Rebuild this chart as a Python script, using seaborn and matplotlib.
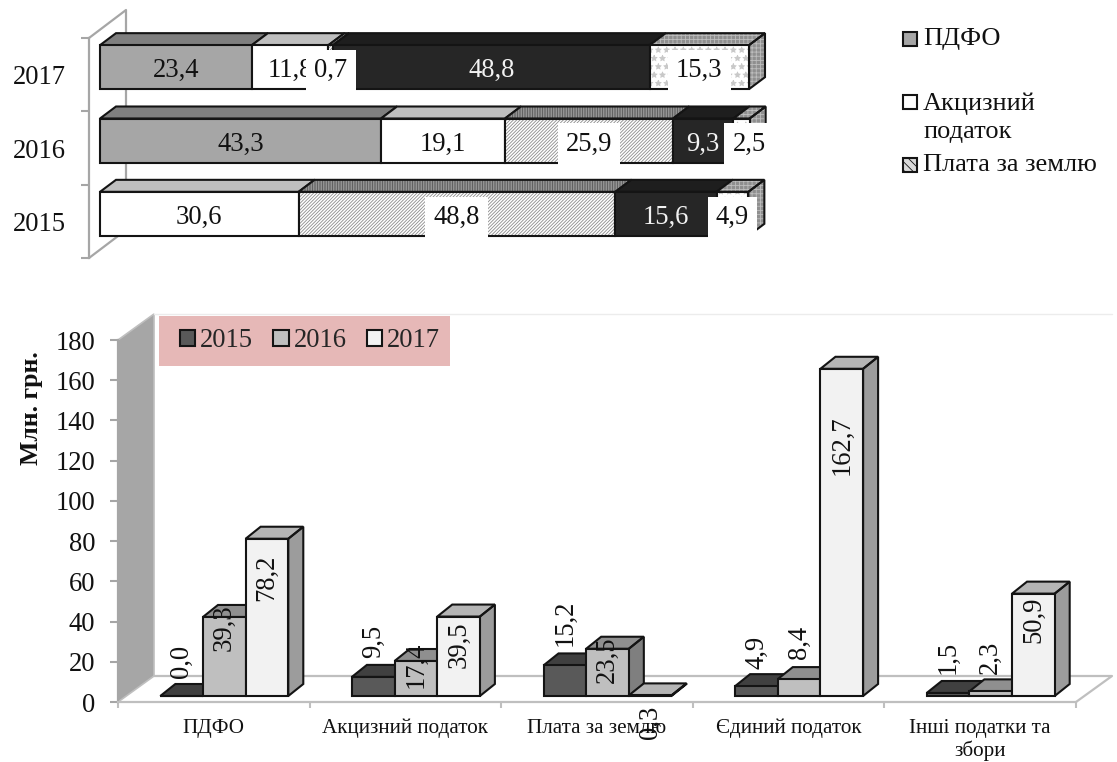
import numpy as np
import pandas as pd
import matplotlib
matplotlib.use("Agg")
import matplotlib.pyplot as plt
from matplotlib.patches import Polygon, Rectangle, Patch
import seaborn as sns

# ---- shares of local budget revenue, % ----
share_years = ["2017", "2016", "2015"]
share_pdfo = [23.4, 43.3, 0.0]
share_excise = [11.8, 19.1, 30.6]
share_land = [0.7, 25.9, 48.8]
share_single = [48.8, 9.3, 15.6]
share_other = [15.3, 2.5, 4.9]

# ---- revenue by tax, mln UAH ----
tax_names = ["ПДФО", "Акцизний податок", "Плата за землю", "Єдиний податок", "Інші податки та\nзбори"]
amount_years = ["2015", "2016", "2017"]
amount_2015 = [0.0, 9.5, 15.2, 4.9, 1.5]
amount_2016 = [39.3, 17.4, 23.5, 8.4, 2.3]
amount_2017 = [78.2, 39.5, 0.3, 162.7, 50.9]

W, H = 1117, 762
INK = "#141414"
WALL = "#a6a6a6"
FLOOR = "#bfbfbf"
BIG = 19.2

sns.set_theme(style="white")
plt.rcParams["font.family"] = ["Liberation Serif", "DejaVu Serif"]
plt.rcParams["hatch.linewidth"] = 0.6
plt.rcParams["axes.unicode_minus"] = False

fig = plt.figure(figsize=(W / 100, H / 100), dpi=100, facecolor="white")


def box_axes(left, top, right, bottom, **kw):
    """Axes placed by pixel edges, measured from the top-left corner."""
    return fig.add_axes([left / W, 1 - bottom / H, (right - left) / W, (bottom - top) / H], **kw)


def depth(ax, dx_px, dy_px):
    """Convert a screen offset in pixels to data units of the axes."""
    inv = ax.transData.inverted()
    p0 = inv.transform((0, 0))
    p1 = inv.transform((dx_px, dy_px))
    return p1[0] - p0[0], p1[1] - p0[1]


def face(ax, pts, color, z, hatch=None, hatch_color=None, lw=1.5):
    """One flat side of a 3D block: fill, optional hatch, dark outline."""
    if hatch:
        ax.add_patch(Polygon(pts, closed=True, facecolor=color, edgecolor=hatch_color,
                             lw=0, hatch=hatch, zorder=z, clip_on=False))
    else:
        ax.add_patch(Polygon(pts, closed=True, facecolor=color, edgecolor="none",
                             zorder=z, clip_on=False))
    ax.add_patch(Polygon(pts, closed=True, fill=False, edgecolor=INK, lw=lw,
                         joinstyle="miter", zorder=z + 0.01, clip_on=False))


# ------------------------------------------------------------------ stacked shares
PX_PER_PCT = 6.49
frame_top = box_axes(89, 38, 770, 258)
frame_top.set_xlim(0, 681 / PX_PER_PCT)
frame_top.set_ylim(2.5, -0.5)
frame_top.set_yticks(range(3))
frame_top.set_yticklabels(share_years, fontsize=BIG, color="#111111")
frame_top.set_yticks([-0.5, 0.5, 1.5, 2.5], minor=True)
frame_top.tick_params(axis="y", which="major", length=0, pad=17)
frame_top.tick_params(axis="y", which="minor", length=5.5, width=1.5, color=WALL, left=True)
frame_top.set_xticks([])
for name, spine in frame_top.spines.items():
    spine.set_visible(name == "left")
    spine.set_color(WALL)
    spine.set_linewidth(1.6)
frame_top.patch.set_alpha(0)
wx, wy = depth(frame_top, 37, 28)
frame_top.plot([0, wx, wx], [-0.5, -0.5 + wy, 2.5 + wy], color=WALL, lw=1.6, clip_on=False)
frame_top.plot([0, wx], [2.5, 2.5 + wy], color=WALL, lw=1.6, clip_on=False)

ax_top = box_axes(100, 30.5, 781, 250.5)
ax_top.patch.set_alpha(0)

stack_series = [
    dict(values=share_pdfo, front="#a6a6a6", top="#7f7f7f", side="#7f7f7f", ink="#111111", box=False),
    dict(values=share_excise, front="#ffffff", top="#bfbfbf", side="#bfbfbf", ink="#111111", box=False),
    dict(values=share_land, front="#ffffff", top="#a8a8a8", side="#8a8a8a", ink="#111111", box=True,
         hatch="//////////", hatch_color="#8c8c8c", top_hatch="||||||||||", top_hatch_color="#555555"),
    dict(values=share_single, front="#262626", top="#1e1e1e", side="#1e1e1e", ink="#f2f2f2", box=False),
    dict(values=share_other, front="#ffffff", top="#8f8f8f", side="#8f8f8f", ink="#111111", box=True,
         hatch="**", hatch_color="#c8c8c8", top_hatch="++++", top_hatch_color="#bdbdbd"),
]
# the last label sits a little to the right of its narrow segment
label_nudge_pct = {(1, 4): 1.2}

running = np.zeros(len(share_years))
sx, sy = None, None
for k, s in enumerate(stack_series):
    frame = pd.DataFrame({"Рік": share_years, "Частка": s["values"]})
    sns.barplot(data=frame, x="Частка", y="Рік", order=share_years, orient="y", left=running.copy(),
                width=0.6, color=s["front"], saturation=1, errorbar=None, ax=ax_top)
    ax_top.set_xlim(0, 681 / PX_PER_PCT)
    ax_top.set_ylim(2.5, -0.5)
    if sx is None:
        sx, sy = depth(ax_top, 16, 12)
    container = ax_top.containers[-1]
    z = 2 + 2 * k
    for i, bar in enumerate(container):
        v = s["values"][i]
        bar.set_linewidth(0)
        bar.set_zorder(z + 0.5)
        bar.set_hatch(s.get("hatch"))
        if s.get("hatch"):
            bar.set_edgecolor(s["hatch_color"])
        if v <= 0:
            bar.set_visible(False)
            continue
        x0, x1 = bar.get_x(), bar.get_x() + bar.get_width()
        y0, y1 = bar.get_y(), bar.get_y() + bar.get_height()
        face(ax_top, [(x0, y0), (x1, y0), (x1 + sx, y0 + sy), (x0 + sx, y0 + sy)], s["top"], z,
             s.get("top_hatch"), s.get("top_hatch_color"))
        if k == len(stack_series) - 1:
            face(ax_top, [(x1, y0), (x1 + sx, y0 + sy), (x1 + sx, y1 + sy), (x1, y1)], s["side"], z,
                 s.get("top_hatch"), s.get("top_hatch_color"))
        ax_top.add_patch(Rectangle((x0, y0), x1 - x0, y1 - y0, fill=False, edgecolor=INK, lw=1.5,
                                   zorder=z + 0.6, clip_on=False))
    running = running + np.array(s["values"])

ax_top.set_axis_off()

running = np.zeros(len(share_years))
for k, s in enumerate(stack_series):
    for i, v in enumerate(s["values"]):
        if v <= 0:
            continue
        xc = running[i] + v / 2 + label_nudge_pct.get((i, k), 0)
        bbox = dict(facecolor="white", edgecolor="none", pad=6) if s["box"] else None
        ax_top.text(xc, i + 0.05, f"{v:.1f}".replace(".", ","), ha="center", va="center",
                    fontsize=BIG, color=s["ink"], bbox=bbox, zorder=30 + k, clip_on=False)
    running = running + np.array(s["values"])

# side legend of the share chart
legend_rows = [
    ("ПДФО", 39, 39, "#a6a6a6", None),
    ("Акцизний\nподаток", 118, 102, "#ffffff", None),
    ("Плата за землю", 165, 165, "#d9d9d9", "\\\\\\\\"),
]
for label, text_y, mark_y, fc, hatch in legend_rows:
    fig.add_artist(Rectangle((903.5 / W, 1 - (mark_y + 7) / H), 14 / W, 14 / H, transform=fig.transFigure,
                             facecolor=fc, edgecolor=INK, lw=1.5, hatch=hatch))
    fig.text(923 / W, 1 - text_y / H, label, ha="left", va="center", fontsize=19,
             color="#111111", linespacing=1.33)

# ------------------------------------------------------------------ amounts by tax
frame_low = box_axes(118, 340, 1076, 702)
frame_low.set_xlim(-0.5, 4.5)
frame_low.set_ylim(0, 180)
frame_low.patch.set_alpha(0)
frame_low.set_yticks(np.arange(0, 181, 20))
frame_low.set_xticks(range(len(tax_names)))
frame_low.set_xticklabels(tax_names, fontsize=15.2, color="#111111", linespacing=1.2)
frame_low.set_xticks(np.arange(-0.5, 5), minor=True)
frame_low.tick_params(axis="y", labelsize=BIG, labelcolor="#111111", length=5.5, width=1.5,
                      color=WALL, left=True, pad=11)
frame_low.tick_params(axis="x", which="major", length=0, pad=12)
frame_low.tick_params(axis="x", which="minor", length=4, width=1.5, color=FLOOR, bottom=True)
for name, spine in frame_low.spines.items():
    spine.set_visible(name in ("left", "bottom"))
    spine.set_color(FLOOR if name == "bottom" else WALL)
    spine.set_linewidth(1.6)
frame_low.set_ylabel("Млн. грн.", fontsize=18.5, fontweight="bold", color="#111111")
frame_low.yaxis.set_label_coords(-75 / 958, 0.812)

wx, wy = depth(frame_low, 36, 26)
frame_low.add_patch(Polygon([(-0.5, 0), (-0.5 + wx, wy), (-0.5 + wx, 180 + wy), (-0.5, 180)],
                            closed=True, facecolor=WALL, edgecolor=FLOOR, lw=1.2, clip_on=False, zorder=1))
frame_low.plot([-0.5 + wx, 4.5 + wx, 4.5], [wy, wy, 0], color=FLOOR, lw=1.6, clip_on=False, zorder=1)
frame_low.plot([-0.5 + wx, 4.5 + wx], [180 + wy, 180 + wy], color="#ececec", lw=1.0, clip_on=False, zorder=1)

ax_low = box_axes(128.5, 334, 1086.5, 696)
ax_low.patch.set_alpha(0)

amount_frame = pd.DataFrame({
    "Податок": np.tile(tax_names, len(amount_years)),
    "Рік": np.repeat(amount_years, len(tax_names)),
    "Млн": amount_2015 + amount_2016 + amount_2017,
})
front_colors = ["#595959", "#bfbfbf", "#f2f2f2"]
top_colors = ["#404040", "#8f8f8f", "#b5b5b5"]
side_colors = ["#3a3a3a", "#7f7f7f", "#9c9c9c"]
sns.barplot(data=amount_frame, x="Податок", y="Млн", hue="Рік", order=tax_names, hue_order=amount_years,
            palette=front_colors, saturation=1, width=0.668, gap=0, errorbar=None, legend=False, ax=ax_low)
ax_low.set_xlim(-0.5, 4.5)
ax_low.set_ylim(0, 180)
bx, by = depth(ax_low, 15, 12)

for k, container in enumerate(ax_low.containers):
    z = 2 + 2 * k
    for bar in container:
        x0, x1 = bar.get_x(), bar.get_x() + bar.get_width()
        top = bar.get_height()
        face(ax_low, [(x1, 0), (x1 + bx, by), (x1 + bx, top + by), (x1, top)], side_colors[k], z)
        face(ax_low, [(x0, top), (x1, top), (x1 + bx, top + by), (x0 + bx, top + by)], top_colors[k], z)
        bar.set_zorder(z + 0.5)
        bar.set_linewidth(0)
        ax_low.add_patch(Rectangle((x0, 0), x1 - x0, top, fill=False, edgecolor=INK, lw=1.5,
                                   zorder=z + 0.6, clip_on=False))
ax_low.set_axis_off()

# vertical position of each rotated value label, on the value scale
label_height_2015 = [17.4, 26.9, 36.3, 21.9, 19.4]
label_height_2016 = [33.8, 15.4, 17.9, 26.4, 19.4]
label_height_2017 = [58.7, 25.4, -12.9, 124.8, 37.8]
label_heights = [label_height_2015, label_height_2016, label_height_2017]
for k, (container, values) in enumerate(zip(ax_low.containers, [amount_2015, amount_2016, amount_2017])):
    for bar, v, h in zip(container, values, label_heights[k]):
        ax_low.text(bar.get_x() + bar.get_width() / 2, h, f"{v:.1f}".replace(".", ","), rotation=90,
                    ha="center", va="center", fontsize=BIG, color="#111111", zorder=30, clip_on=False)

# legend of the amounts chart on a pink plate
fig.add_artist(Rectangle((159 / W, 1 - 366 / H), 291 / W, 50 / H, transform=fig.transFigure,
                         facecolor="#e6b8b7", edgecolor="none", zorder=5))
handles = [Patch(facecolor=c, edgecolor=INK, lw=1.5, label=y) for c, y in zip(front_colors, amount_years)]
legend = fig.legend(handles=handles, ncols=3, loc="center left", bbox_to_anchor=(180 / W, 1 - 341 / H),
                    frameon=False, fontsize=BIG, handlelength=0.58, handleheight=0.58, handletextpad=0.18,
                    columnspacing=0.75, borderaxespad=0, borderpad=0)
legend.set_zorder(6)

fig.savefig("out.png", dpi=100, facecolor="white")
